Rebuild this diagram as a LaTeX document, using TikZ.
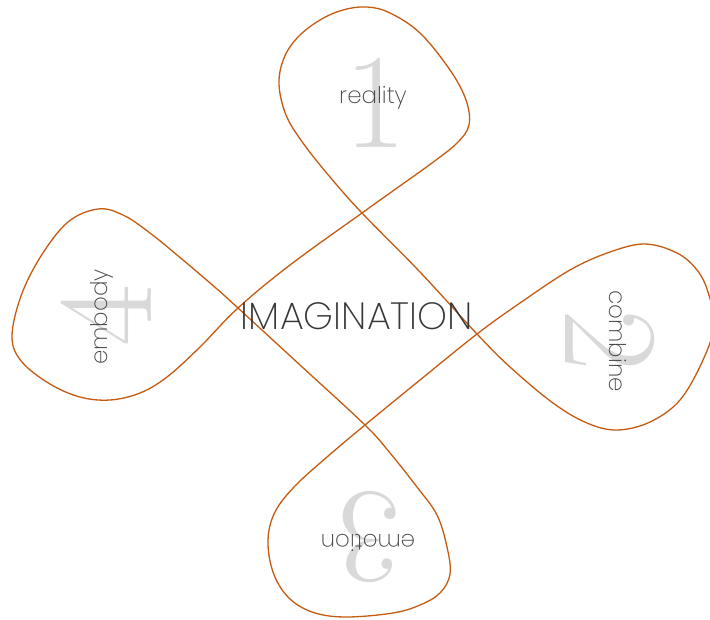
\documentclass[tikz,border=0pt]{standalone}
\usepackage{fontspec}
\newfontfamily\thinfont{Poppins}[UprightFont=* ExtraLight]
\definecolor{loop}{HTML}{C55A11}
\definecolor{digit}{HTML}{D9D9D9}
\definecolor{label}{HTML}{444444}
\begin{document}
\begin{tikzpicture}[x=1pt,y=-1pt,
  bigdigit/.style={inner sep=0pt,text=digit,font=\fontsize{135}{135}\selectfont},
  petallabel/.style={inner sep=0pt,text=label,font=\thinfont\fontsize{23}{23}\selectfont},
  centerlabel/.style={inner sep=0pt,text=label!80!black,font=\thinfont\fontsize{38}{38}\selectfont},
  loopline/.style={draw=loop,line width=1.3pt,line join=round}]
\useasboundingbox (0,0) rectangle (710,619);
\clip (0,0) rectangle (710,619);
% big digits
\node[bigdigit] (d1) at (375,103) {1};
\node[bigdigit,rotate=-90] (d2) at (610,340) {2};
\node[bigdigit,rotate=180] (d3) at (370,537) {3};
\node[bigdigit,rotate=90] (d4) at (106,316) {4};
% the loop
\draw[loopline] plot[smooth cycle,tension=0.6] coordinates {
(279,84) (286,115) (303,143) (330,177) (362,213) (420,272) (477,334)
(510,367) (553,403) (587,423) (617,430) (650,422) (680,400) (703,360)
(714,325) (708,292) (697,270) (677,253) (645,244) (610,252) (570,270)
(520,303) (477,334) (420,380) (365,425) (327,457) (295,486) (275,512)
(268,540) (273,572) (288,597) (312,612) (345,617) (393,613) (420,605)
(440,593) (450,574) (447,547) (437,515) (417,487) (390,453) (365,425)
(300,365) (238,308) (217,289) (183,260) (150,233) (123,215) (98,209)
(68,222) (41,256) (21,296) (12,337) (22,362) (50,384) (80,397) (110,400)
(140,393) (167,377) (200,347) (238,308) (290,265) (362,213) (397,188)
(432,163) (457,143) (469,125) (466,100) (450,70) (420,33) (390,13)
(367,7) (343,10) (320,20) (298,37) (284,58)};
% labels
\node[petallabel] (l1) at (373,98) {reality};
\node[petallabel,rotate=-90] (l2) at (618,341) {combine};
\node[petallabel,rotate=180] (l3) at (368,543) {emotion};
\node[petallabel,rotate=90] (l4) at (102,317) {embody};
\node[centerlabel] (c) at (357,316) {IMAGINATION};
\end{tikzpicture}
\end{document}
